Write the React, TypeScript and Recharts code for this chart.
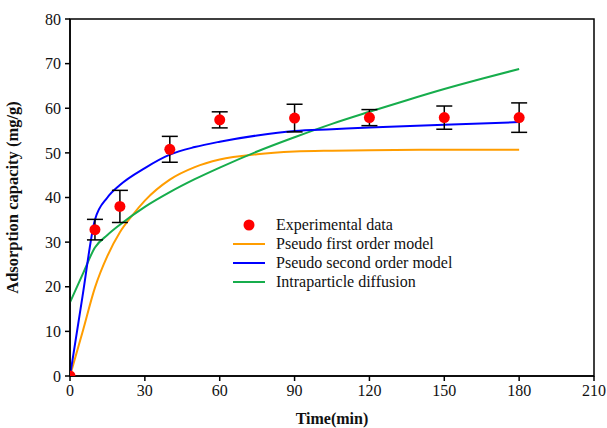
import React from "react";
import {
  ComposedChart,
  Line,
  Scatter,
  ErrorBar,
  XAxis,
  YAxis,
  ReferenceArea,
} from "recharts";

// experimental points (time in min, q in mg/g, error)
const expTime = [0, 10, 20, 40, 60, 90, 120, 150, 180];
const expValue = [0, 32.8, 38.0, 50.8, 57.4, 57.8, 57.9, 57.9, 57.9];
const expError = [0, 2.3, 3.6, 2.9, 1.8, 3.1, 1.8, 2.6, 3.3];

// model curves
const pfoTime = [0, 5, 10, 15, 20, 25, 30, 40, 50, 60, 75, 90, 105, 120, 150, 180];
const pfoValue = [0, 9.8, 19.8, 26.9, 32.2, 36.0, 39.3, 44.0, 46.8, 48.5, 49.7, 50.3, 50.5, 50.6, 50.7, 50.7];

const psoTime = [0, 5, 10, 15, 20, 30, 40, 50, 60, 75, 90, 105, 120, 150, 180];
const psoValue = [0, 17.8, 35.0, 40.0, 42.8, 46.6, 49.6, 51.3, 52.5, 53.9, 54.9, 55.3, 55.7, 56.3, 56.9];

const idTime = [0, 5, 10, 15, 20, 30, 40, 50, 60, 75, 90, 105, 120, 135, 150, 165, 180];
const idValue = [16.5, 22.7, 28.8, 31.6, 33.9, 37.9, 41.2, 44.1, 46.7, 50.3, 53.5, 56.5, 59.2, 61.8, 64.3, 66.6, 68.8];

const xTicks = [0, 30, 60, 90, 120, 150, 180, 210];
const yTicks = [0, 10, 20, 30, 40, 50, 60, 70, 80];

const expData = expTime.map((t, i) => ({ t, v: expValue[i], err: expError[i] }));
const errData = expData.filter((d) => d.err > 0);
const pfoData = pfoTime.map((t, i) => ({ t, v: pfoValue[i] }));
const psoData = psoTime.map((t, i) => ({ t, v: psoValue[i] }));
const idData = idTime.map((t, i) => ({ t, v: idValue[i] }));

const FONT = "Times New Roman, Liberation Serif, DejaVu Serif, serif";
const RED = "#ff0000";
const ORANGE = "#ff9d00";
const BLUE = "#0000ff";
const GREEN = "#16ad4c";

const legendItems = [
  { name: "Experimental data", color: RED, type: "dot" },
  { name: "Pseudo first order model", color: ORANGE, type: "line" },
  { name: "Pseudo second order model", color: BLUE, type: "line" },
  { name: "Intraparticle diffusion", color: GREEN, type: "line" },
];

function ChartLegend() {
  return (
    <div
      style={{
        position: "absolute",
        left: 233,
        top: 215,
        fontFamily: FONT,
        fontSize: 16,
        color: "#111",
      }}
    >
      {legendItems.map((item) => (
        <div
          key={item.name}
          style={{ display: "flex", alignItems: "center", height: 19.2 }}
        >
          <svg width={43} height={12}>
            {item.type === "dot" ? (
              <circle cx={16} cy={6} r={5.5} fill={item.color} />
            ) : (
              <line x1={0} y1={6} x2={32} y2={6} stroke={item.color} strokeWidth={2} />
            )}
          </svg>
          <span>{item.name}</span>
        </div>
      ))}
    </div>
  );
}

const Dot = (props: any) => (
  <circle cx={props.cx} cy={props.cy} r={5.5} fill={RED} />
);
const NoDot = () => null;

export default function App() {
  return (
    <div style={{ position: "absolute", left: 0, top: 0, width: 607, height: 428, background: "#fff", fontFamily: FONT }}>
      <ComposedChart
        width={607}
        height={428}
        margin={{ top: 19, right: 13, left: 0, bottom: 0 }}
        style={{ fontFamily: FONT }}
      >
        <XAxis
          type="number"
          dataKey="t"
          domain={[0, 210]}
          ticks={xTicks}
          allowDataOverflow
          tickSize={5}
          tickMargin={4}
          height={52}
          stroke="#000"
          strokeWidth={1.5}
          tick={{ fontSize: 16, fill: "#111", fontFamily: FONT }}
          label={{
            value: "Time(min)",
            position: "insideBottom",
            offset: 4,
            style: { fontSize: 16, fontWeight: "bold", fill: "#111", fontFamily: FONT },
          }}
        />
        <YAxis
          type="number"
          domain={[0, 80]}
          ticks={yTicks}
          allowDataOverflow
          width={70}
          tickSize={5}
          tickMargin={4}
          stroke="#000"
          strokeWidth={1.5}
          tick={{ fontSize: 16, fill: "#111", fontFamily: FONT }}
          label={{
            value: "Adsorption capacity (mg/g)",
            angle: -90,
            position: "insideLeft",
            offset: 12,
            textAnchor: "middle",
            style: { fontSize: 16.5, fontWeight: "bold", fill: "#111", fontFamily: FONT, textAnchor: "middle" },
          }}
        />
        <ReferenceArea
          x1={0}
          x2={210}
          y1={0}
          y2={80}
          fill="none"
          stroke="#000"
          strokeWidth={1.5}
          fillOpacity={0}
        />
        <Line
          data={pfoData}
          dataKey="v"
          type="monotone"
          stroke={ORANGE}
          strokeWidth={2}
          dot={false}
          isAnimationActive={false}
        />
        <Line
          data={idData}
          dataKey="v"
          type="monotone"
          stroke={GREEN}
          strokeWidth={2}
          dot={false}
          isAnimationActive={false}
        />
        <Line
          data={psoData}
          dataKey="v"
          type="monotone"
          stroke={BLUE}
          strokeWidth={2}
          dot={false}
          isAnimationActive={false}
        />
        <Scatter
          data={errData}
          dataKey="v"
          shape={<NoDot />}
          isAnimationActive={false}
        >
          <ErrorBar
            dataKey="err"
            direction="y"
            width={8}
            stroke="#000"
            strokeWidth={1.5}
            isAnimationActive={false}
          />
        </Scatter>
        <Scatter
          data={expData}
          dataKey="v"
          shape={<Dot />}
          isAnimationActive={false}
        />
      </ComposedChart>
      <ChartLegend />
    </div>
  );
}
